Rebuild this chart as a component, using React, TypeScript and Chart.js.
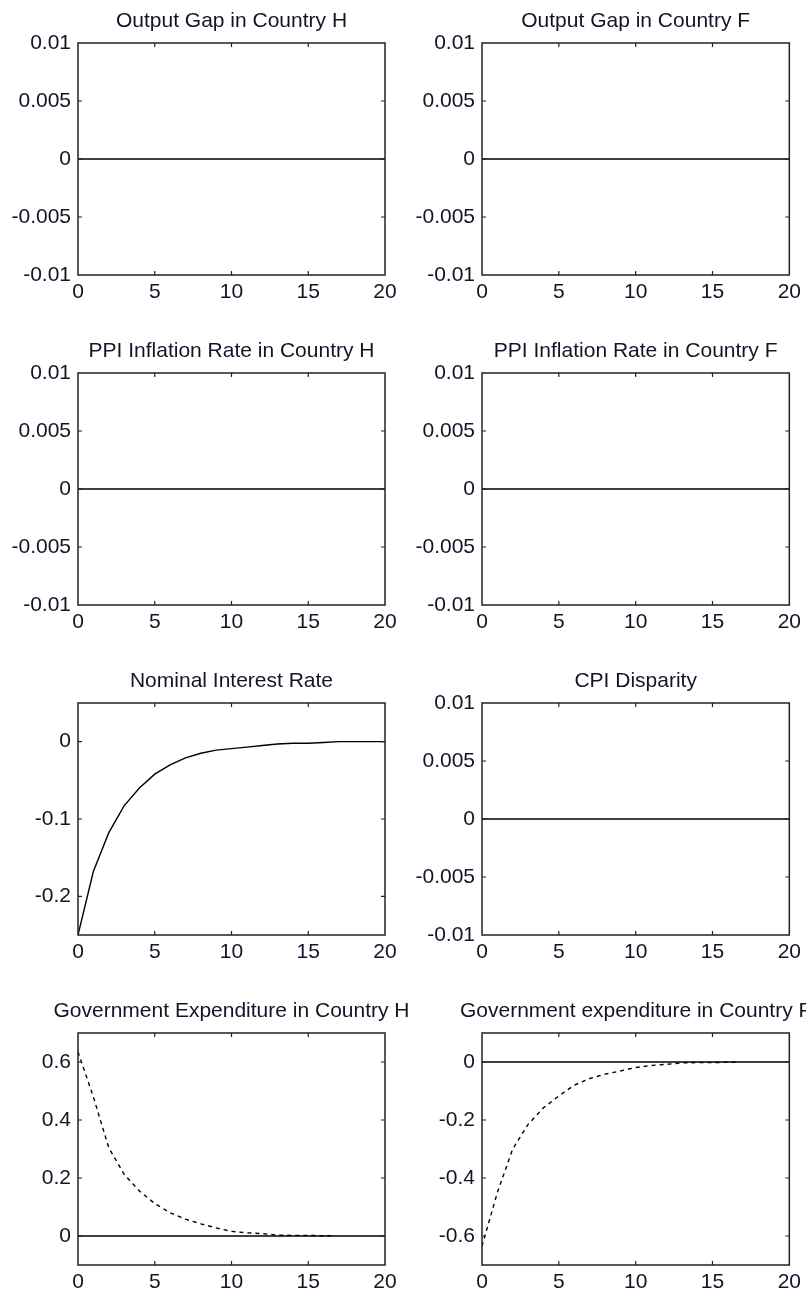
import React, { useEffect, useRef } from "react";
import { Chart, registerables } from "chart.js";

Chart.register(...registerables);

// ---------- data ----------
const periods = [0, 1, 2, 3, 4, 5, 6, 7, 8, 9, 10, 11, 12, 13, 14, 15, 16, 17, 18, 19, 20];
const outputGapH = [0, 0, 0, 0, 0, 0, 0, 0, 0, 0, 0, 0, 0, 0, 0, 0, 0, 0, 0, 0, 0];
const outputGapF = [0, 0, 0, 0, 0, 0, 0, 0, 0, 0, 0, 0, 0, 0, 0, 0, 0, 0, 0, 0, 0];
const ppiInflationH = [0, 0, 0, 0, 0, 0, 0, 0, 0, 0, 0, 0, 0, 0, 0, 0, 0, 0, 0, 0, 0];
const ppiInflationF = [0, 0, 0, 0, 0, 0, 0, 0, 0, 0, 0, 0, 0, 0, 0, 0, 0, 0, 0, 0, 0];
const cpiDisparity = [0, 0, 0, 0, 0, 0, 0, 0, 0, 0, 0, 0, 0, 0, 0, 0, 0, 0, 0, 0, 0];
const nominalInterestRate = [
  -0.25, -0.168, -0.118, -0.083, -0.06, -0.042, -0.03, -0.021, -0.015, -0.011, -0.009,
  -0.007, -0.005, -0.003, -0.002, -0.002, -0.001, 0, 0, 0, 0,
];
const zeroReference = [0, 0, 0, 0, 0, 0, 0, 0, 0, 0, 0, 0, 0, 0, 0, 0, 0, 0, 0, 0, 0];

const govPeriods = [0, 1, 2, 3, 4, 5, 6, 7, 8, 9, 10, 11, 12, 13, 14, 15, 16, 16.5];
const govExpenditureH = [
  0.635, 0.48, 0.305, 0.213, 0.155, 0.112, 0.08, 0.058, 0.042, 0.028, 0.016, 0.011, 0.008,
  0.003, 0.002, 0.002, 0.001, 0.001,
];
const govExpenditureF = [
  -0.635, -0.45, -0.3, -0.215, -0.158, -0.117, -0.08, -0.057, -0.042, -0.031, -0.019, -0.012,
  -0.008, -0.003, -0.002, -0.002, -0.001, -0.001,
];

const xTickValues = [0, 5, 10, 15, 20];
const smallTickValues = [-0.01, -0.005, 0, 0.005, 0.01];
const smallTickLabels = ["-0.01", "-0.005", "0", "0.005", "0.01"];
const rateTickValues = [-0.2, -0.1, 0];
const rateTickLabels = ["-0.2", "-0.1", "0"];
const govHTickValues = [0, 0.2, 0.4, 0.6];
const govHTickLabels = ["0", "0.2", "0.4", "0.6"];
const govFTickValues = [-0.6, -0.4, -0.2, 0];
const govFTickLabels = ["-0.6", "-0.4", "-0.2", "0"];

const titles = [
  "Output Gap in Country H",
  "Output Gap in Country F",
  "PPI Inflation Rate in Country H",
  "PPI Inflation Rate in Country F",
  "Nominal Interest Rate",
  "CPI Disparity",
  "Government Expenditure in Country H",
  "Government expenditure in Country F",
];

// ---------- layout ----------
const FONT_FAMILY = '"Liberation Sans", Arial, Helvetica, sans-serif';
const FONT_SIZE = 21;
const TEXT_COLOR = "#141428";
const rowTops = [43, 373, 703, 1033];
const plotHeight = 232;
const colCanvasLeft = [0, 400];
const colCanvasWidth = [420, 406];
const colPlotLeft = [78, 482];
const colPlotRight = [385, 790];
const TOP_PAD = 43;
const X_AXIS_HEIGHT = 32;

type Series = { xs: number[]; ys: number[]; dashed?: boolean; width?: number };
type PanelDef = {
  title: string;
  row: number;
  col: number;
  yMin: number;
  yMax: number;
  yTicks: number[];
  yLabels: string[];
  series: Series[];
};

const panels: PanelDef[] = [
  { title: titles[0], row: 0, col: 0, yMin: -0.01, yMax: 0.01, yTicks: smallTickValues, yLabels: smallTickLabels, series: [{ xs: periods, ys: outputGapH }] },
  { title: titles[1], row: 0, col: 1, yMin: -0.01, yMax: 0.01, yTicks: smallTickValues, yLabels: smallTickLabels, series: [{ xs: periods, ys: outputGapF }] },
  { title: titles[2], row: 1, col: 0, yMin: -0.01, yMax: 0.01, yTicks: smallTickValues, yLabels: smallTickLabels, series: [{ xs: periods, ys: ppiInflationH }] },
  { title: titles[3], row: 1, col: 1, yMin: -0.01, yMax: 0.01, yTicks: smallTickValues, yLabels: smallTickLabels, series: [{ xs: periods, ys: ppiInflationF }] },
  { title: titles[4], row: 2, col: 0, yMin: -0.25, yMax: 0.05, yTicks: rateTickValues, yLabels: rateTickLabels, series: [{ xs: periods, ys: nominalInterestRate, width: 1.4 }] },
  { title: titles[5], row: 2, col: 1, yMin: -0.01, yMax: 0.01, yTicks: smallTickValues, yLabels: smallTickLabels, series: [{ xs: periods, ys: cpiDisparity }] },
  { title: titles[6], row: 3, col: 0, yMin: -0.1, yMax: 0.7, yTicks: govHTickValues, yLabels: govHTickLabels, series: [{ xs: periods, ys: zeroReference }, { xs: govPeriods, ys: govExpenditureH, dashed: true, width: 1.4 }] },
  { title: titles[7], row: 3, col: 1, yMin: -0.7, yMax: 0.1, yTicks: govFTickValues, yLabels: govFTickLabels, series: [{ xs: periods, ys: zeroReference }, { xs: govPeriods, ys: govExpenditureF, dashed: true, width: 1.4 }] },
];

const framePlugin = {
  id: "matlabFrame",
  afterDatasetsDraw(chart: any, _args: any, opts: any) {
    const { ctx, chartArea: a, scales } = chart;
    ctx.save();
    ctx.strokeStyle = "#222";
    ctx.lineWidth = 1.5;
    ctx.strokeRect(a.left, a.top, a.right - a.left, a.bottom - a.top);
    ctx.lineWidth = 1.2;
    ctx.beginPath();
    const tl = 4;
    scales.x.ticks.forEach((t: any) => {
      const px = scales.x.getPixelForValue(t.value);
      if (px <= a.left + 1 || px >= a.right - 1) return;
      ctx.moveTo(px, a.bottom);
      ctx.lineTo(px, a.bottom - tl);
      ctx.moveTo(px, a.top);
      ctx.lineTo(px, a.top + tl);
    });
    scales.y.ticks.forEach((t: any) => {
      const py = scales.y.getPixelForValue(t.value);
      if (py <= a.top + 1 || py >= a.bottom - 1) return;
      ctx.moveTo(a.left, py);
      ctx.lineTo(a.left + tl, py);
      ctx.moveTo(a.right, py);
      ctx.lineTo(a.right - tl, py);
    });
    ctx.stroke();
    ctx.fillStyle = TEXT_COLOR;
    ctx.font = `${FONT_SIZE}px ${FONT_FAMILY}`;
    ctx.textAlign = "center";
    ctx.textBaseline = "alphabetic";
    ctx.fillText(opts.text, (a.left + a.right) / 2, a.top - 16);
    ctx.restore();
  },
};

function Panel({ def }: { def: PanelDef }) {
  const ref = useRef<HTMLCanvasElement | null>(null);
  const left = colCanvasLeft[def.col];
  const width = colCanvasWidth[def.col];
  const top = rowTops[def.row] - TOP_PAD;
  const height = TOP_PAD + plotHeight + X_AXIS_HEIGHT;
  const yAxisWidth = colPlotLeft[def.col] - left;
  const rightPad = left + width - colPlotRight[def.col];

  useEffect(() => {
    if (!ref.current) return;
    const font = { family: FONT_FAMILY, size: FONT_SIZE };
    const chart = new Chart(ref.current, {
      type: "line",
      data: {
        datasets: def.series.map((s) => ({
          data: s.xs.map((x, i) => ({ x, y: s.ys[i] })),
          borderColor: "#000",
          borderWidth: s.width ?? 1.5,
          borderDash: s.dashed ? [4, 4] : [],
          pointRadius: 0,
          fill: false,
          tension: 0,
        })),
      },
      options: {
        responsive: false,
        animation: false,
        events: [],
        layout: { padding: { top: TOP_PAD, right: rightPad, left: 0, bottom: 0 } },
        plugins: {
          legend: { display: false },
          title: { display: false },
          tooltip: { enabled: false },
          matlabFrame: { text: def.title },
        } as any,
        scales: {
          x: {
            type: "linear",
            min: 0,
            max: 20,
            grid: { display: false, drawTicks: false },
            border: { display: false },
            afterBuildTicks: (s: any) => {
              s.ticks = xTickValues.map((v) => ({ value: v }));
            },
            afterFit: (s: any) => {
              s.height = X_AXIS_HEIGHT;
            },
            ticks: {
              font,
              color: TEXT_COLOR,
              padding: 5,
              maxRotation: 0,
              autoSkip: false,
              callback: (v: any) => String(v),
            },
          },
          y: {
            type: "linear",
            min: def.yMin,
            max: def.yMax,
            grid: { display: false, drawTicks: false },
            border: { display: false },
            afterBuildTicks: (s: any) => {
              s.ticks = def.yTicks.map((v) => ({ value: v }));
            },
            afterFit: (s: any) => {
              s.width = yAxisWidth;
            },
            ticks: {
              font,
              color: TEXT_COLOR,
              padding: 7,
              autoSkip: false,
              callback: (_v: any, i: number) => def.yLabels[i],
            },
          },
        },
      },
      plugins: [framePlugin],
    });
    return () => chart.destroy();
  }, []);

  return (
    <canvas
      ref={ref}
      width={width}
      height={height}
      style={{ position: "absolute", left, top, width, height, display: "block" }}
    />
  );
}

export default function App() {
  return (
    <div
      style={{
        position: "absolute",
        left: 0,
        top: 0,
        width: 806,
        height: 1297,
        background: "#fff",
        overflow: "hidden",
      }}
    >
      {panels.map((p, i) => (
        <Panel key={i} def={p} />
      ))}
    </div>
  );
}
